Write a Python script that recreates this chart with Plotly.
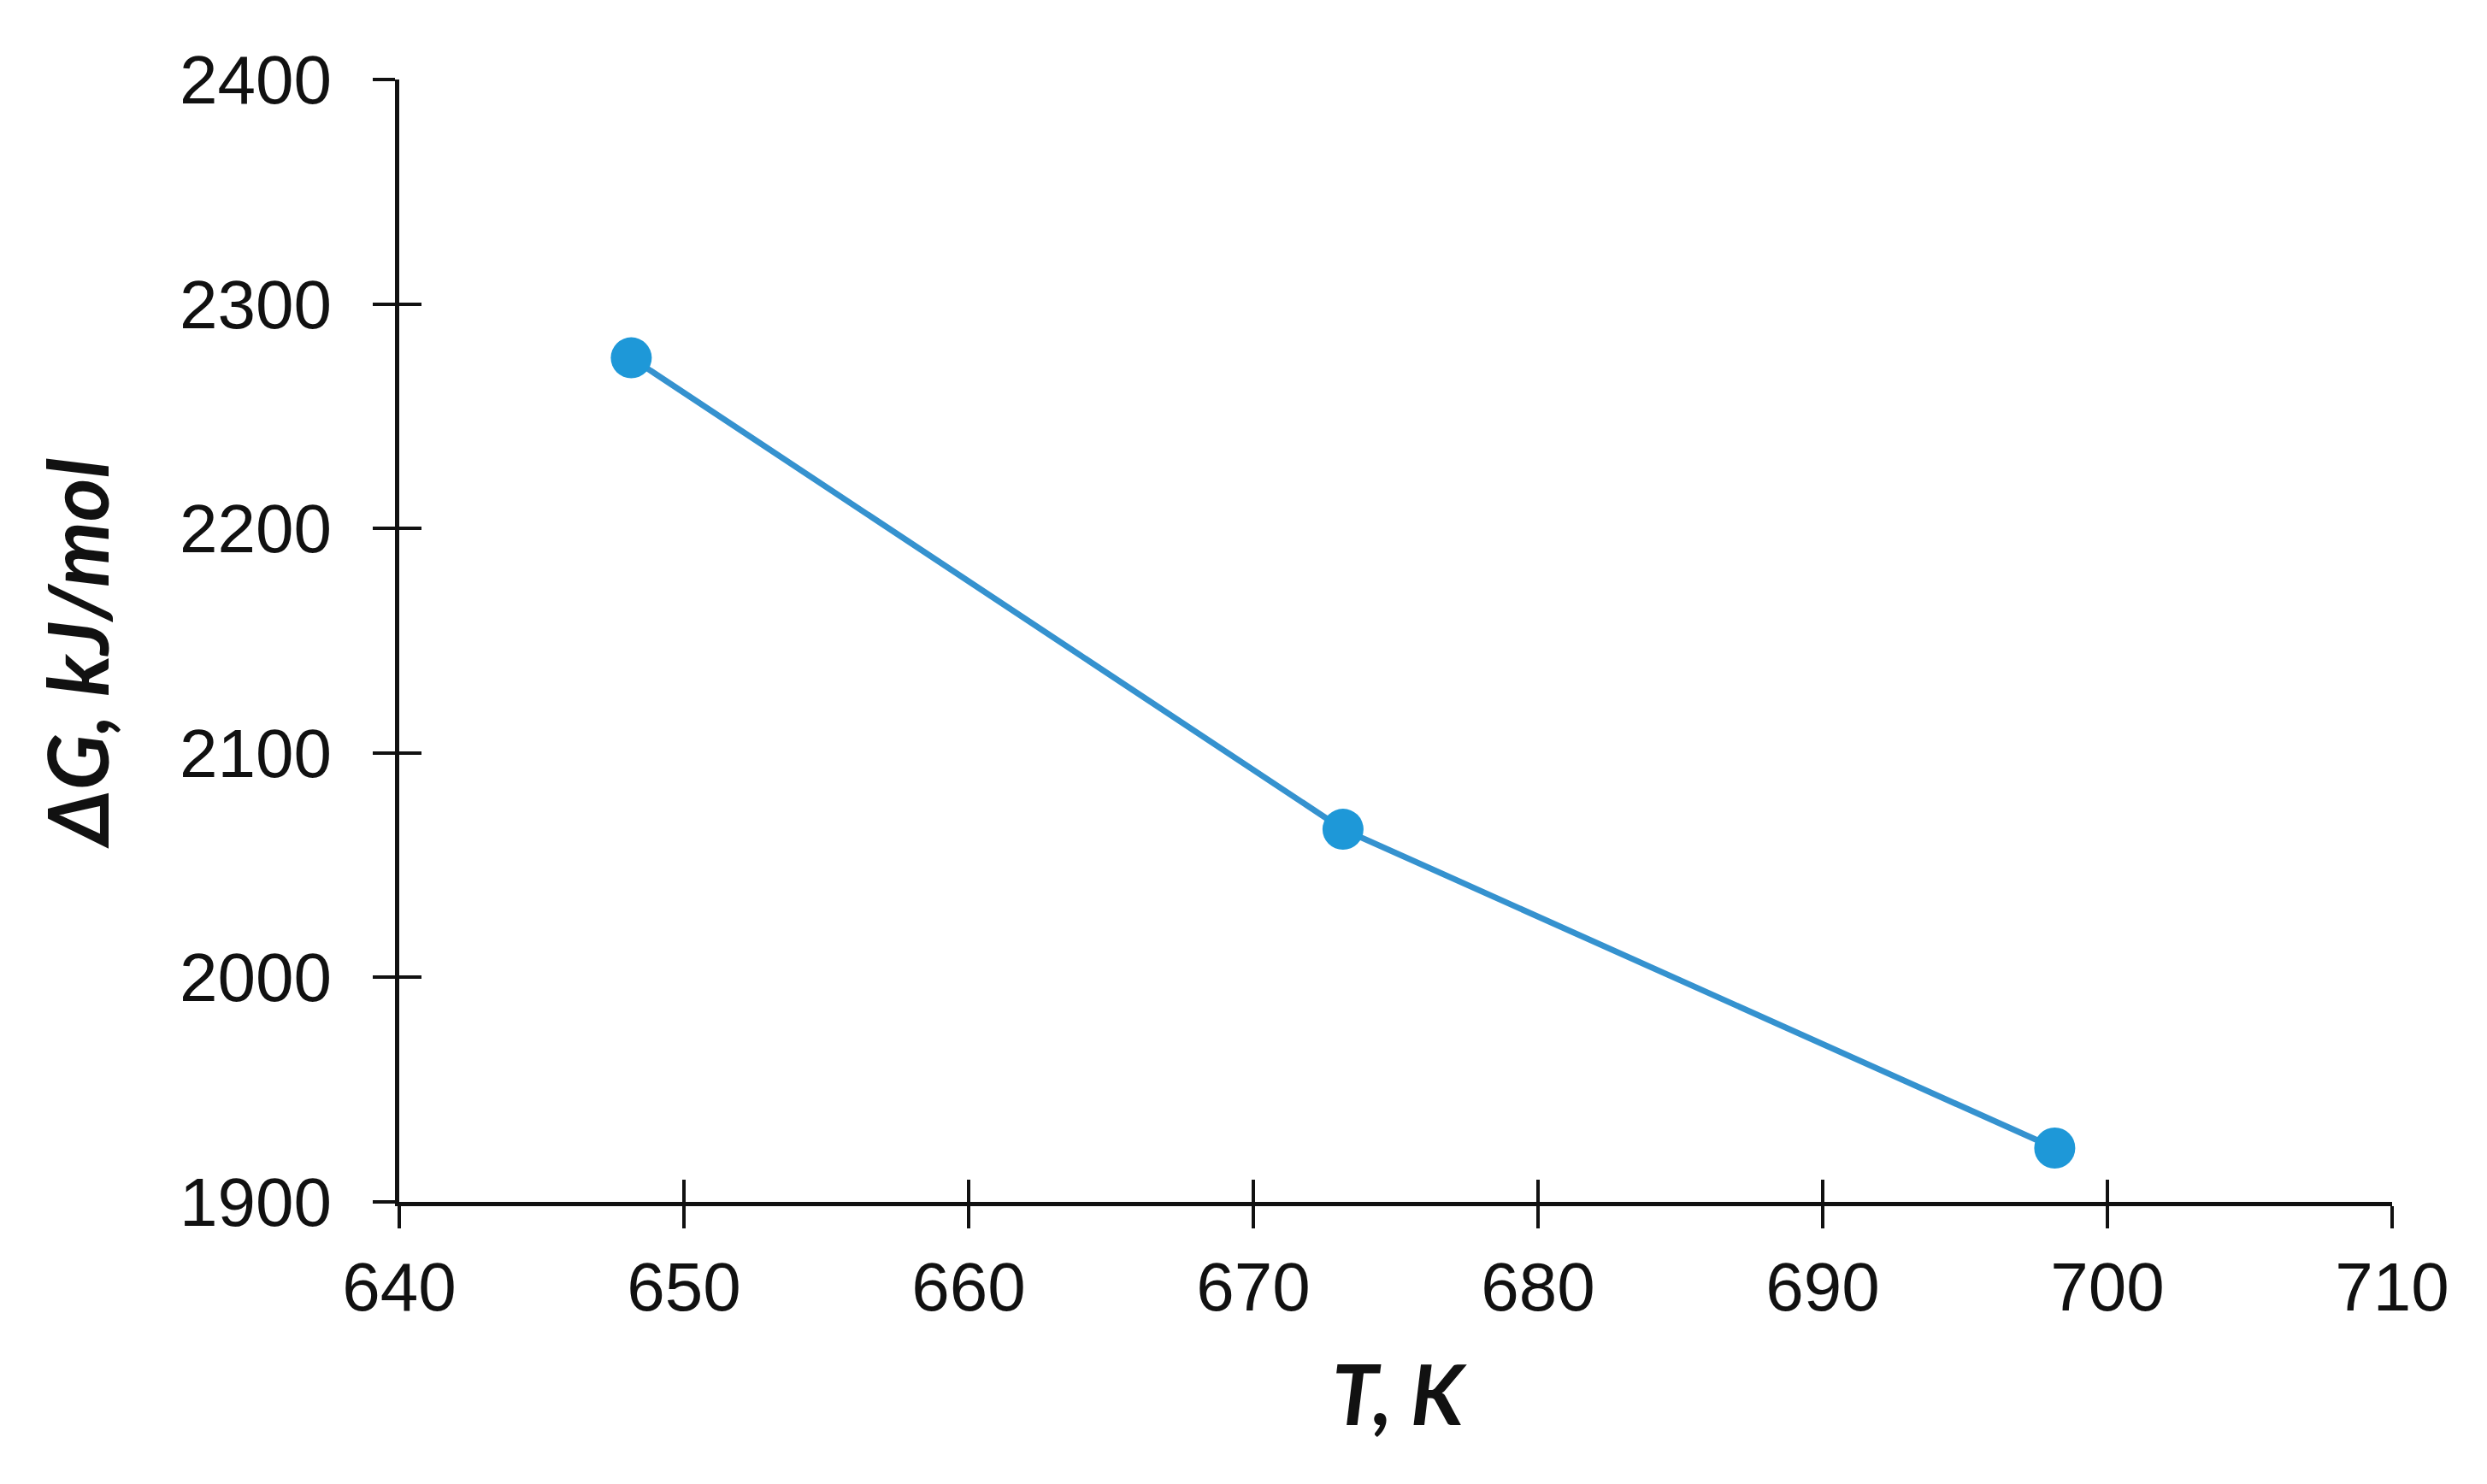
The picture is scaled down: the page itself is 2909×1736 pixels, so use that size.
import plotly.graph_objects as go

T_K = [648.15, 673.15, 698.15]
dG_kJmol = [2276, 2066, 1924]
x_ticks = [640, 650, 660, 670, 680, 690, 700, 710]
y_ticks = [1900, 2000, 2100, 2200, 2300, 2400]

W, H = 2909, 1736
ml, mr, mt, mb = 467, 111, 93, 330

line_col = "#3592CF"
mark_col = "#1E98D8"
tick_font = dict(family="Liberation Sans Narrow, Liberation Sans, Arial", size=80, color="#111111")
title_font = dict(family="Lato, Open Sans, sans-serif", size=97, color="#111111")

fig = go.Figure()
fig.add_trace(go.Scatter(
    x=T_K, y=dG_kJmol, mode="lines+markers",
    line=dict(color=line_col, width=7),
    marker=dict(color=mark_col, size=48),
    showlegend=False, hoverinfo="x+y",
))
# invisible copy on overlay axes so the inner half of the crossing ticks is drawn
fig.add_trace(go.Scatter(
    x=T_K, y=dG_kJmol, mode="markers", opacity=0,
    xaxis="x2", yaxis="y2", showlegend=False, hoverinfo="skip",
))

common = dict(showgrid=False, zeroline=False)
fig.update_layout(
    width=W, height=H,
    margin=dict(l=ml, r=mr, t=mt, b=mb),
    paper_bgcolor="white", plot_bgcolor="white",
    xaxis=dict(range=[640, 710], tickvals=x_ticks, ticks="outside", ticklen=26, tickwidth=4,
               tickcolor="#111111", showline=True, linewidth=5, linecolor="#111111",
               tickfont=tick_font, ticklabelstandoff=0, **common),
    yaxis=dict(range=[1900, 2400], tickvals=y_ticks, ticks="outside", ticklen=26, tickwidth=4,
               tickcolor="#111111", showline=True, linewidth=5, linecolor="#111111",
               tickfont=tick_font, ticklabelstandoff=32, **common),
    xaxis2=dict(range=[640, 710], tickvals=x_ticks, ticks="inside", ticklen=26, tickwidth=4,
                tickcolor="#111111", showticklabels=False, overlaying="x", anchor="y2",
                showline=False, **common),
    yaxis2=dict(range=[1900, 2400], tickvals=y_ticks, ticks="inside", ticklen=26, tickwidth=4,
                tickcolor="#111111", showticklabels=False, overlaying="y", anchor="x2",
                showline=False, **common),
    annotations=[
        dict(text="<b><i>ΔG, kJ/mol</i></b>", x=-0.162, y=0.488, xref="paper", yref="paper",
             textangle=-90, showarrow=False, font=title_font, xanchor="center", yanchor="middle"),
        dict(text="<b><i>T, K</i></b>", x=0.502, y=-0.170, xref="paper", yref="paper",
             showarrow=False, font=title_font, xanchor="center", yanchor="middle"),
    ],
)

fig.write_html("out.html", config={"displayModeBar": False},
               post_script="document.body.style.margin='0';")
